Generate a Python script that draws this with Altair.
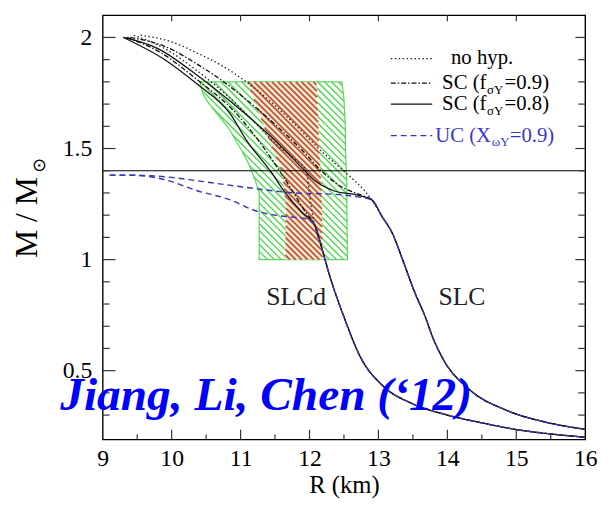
import altair as alt
import pandas as pd
import numpy as np

FONT = "Liberation Serif"
X_DOMAIN = [9, 16]
Y_DOMAIN = [0.19, 2.1]
W, H = 489, 430

# axis labels / ticks
X_LABELS = [9, 10, 11, 12, 13, 14, 15, 16]
Y_LABELS = [0.5, 1.0, 1.5, 2.0]
X_MAJOR = [10, 11, 12, 13, 14, 15]
X_MINOR = [9.5, 10.5, 11.5, 12.5, 13.5, 14.5, 15.5]
Y_MAJOR = [0.5, 1.0, 1.5, 2.0]
Y_MINOR = [0.3, 0.4, 0.6, 0.7, 0.8, 0.9, 1.1, 1.2, 1.3, 1.4, 1.6, 1.7, 1.8, 1.9]

# shared low-mass branches
SLC_BRANCH_R = [12.9, 13.06, 13.2, 13.35, 13.53, 13.67, 13.8, 13.96, 14.3, 14.87, 15.4, 16.0]
SLC_BRANCH_M = [1.27, 1.19, 1.12, 1.0, 0.85, 0.75, 0.64, 0.54, 0.42, 0.32, 0.27, 0.236]
SLCD_BRANCH_R = [12.07, 12.18, 12.3, 12.49, 12.74, 13.07, 13.5, 14.0, 14.5, 15.0, 15.5, 16.0]
SLCD_BRANCH_M = [1.16, 1.05, 0.92, 0.75, 0.56, 0.43, 0.35, 0.30, 0.265, 0.235, 0.215, 0.2]

# upper parts
NOHYP_SLC_R = [9.55, 10.0, 10.37, 10.8, 11.25, 11.75, 12.2, 12.6, 12.8]
NOHYP_SLC_M = [2.01, 1.98, 1.93, 1.86, 1.76, 1.62, 1.48, 1.37, 1.31]
SC09_SLC_R = [9.4, 9.9, 10.37, 10.8, 11.2, 11.6, 11.9, 12.17, 12.45, 12.75]
SC09_SLC_M = [2.0, 1.96, 1.88, 1.79, 1.69, 1.58, 1.49, 1.40, 1.33, 1.29]
SC08_SLC_R = [9.3, 9.8, 10.37, 10.9, 11.35, 11.65, 11.9, 12.1, 12.35, 12.7]
SC08_SLC_M = [2.0, 1.95, 1.83, 1.70, 1.58, 1.49, 1.41, 1.35, 1.31, 1.29]

NOHYP_SLCD_R = [9.45, 9.9, 10.37, 10.8, 11.2, 11.55, 11.8, 11.95, 12.02]
NOHYP_SLCD_M = [2.01, 1.95, 1.85, 1.74, 1.62, 1.51, 1.45, 1.40, 1.25]
SC09_SLCD_R = [9.35, 9.85, 10.37, 10.9, 11.25, 11.5, 11.75, 11.95]
SC09_SLCD_M = [2.0, 1.93, 1.81, 1.67, 1.54, 1.43, 1.31, 1.21]
SC08_SLCD_R = [9.3, 9.9, 10.37, 10.84, 11.1, 11.43, 11.65, 11.9]
SC08_SLCD_M = [2.0, 1.9, 1.79, 1.66, 1.53, 1.40, 1.30, 1.21]

UC_SLC_R = [9.1, 9.4, 9.65, 10.0, 10.37, 11.08, 11.79, 12.3, 12.64]
UC_SLC_M = [1.38, 1.38, 1.378, 1.37, 1.355, 1.325, 1.30, 1.295, 1.285]
UC_SLCD_R = [9.1, 9.4, 9.65, 9.9, 10.37, 10.84, 11.22, 11.5, 11.79, 11.93]
UC_SLCD_M = [1.38, 1.38, 1.375, 1.36, 1.31, 1.27, 1.22, 1.2, 1.19, 1.185]

# constraint regions (horizontal bands)
GREEN_M = [1.8, 1.75, 1.72, 1.66, 1.59, 1.5, 1.43, 1.35, 1.3, 1.0]
GREEN_LEFT = [10.41, 10.45, 10.5, 10.65, 10.83, 11.0, 11.12, 11.22, 11.27, 11.27]
GREEN_RIGHT = [12.47, 12.49, 12.5, 12.51, 12.52, 12.52, 12.53, 12.54, 12.54, 12.55]
RED_M = [1.8, 1.667, 1.5, 1.4, 1.24, 1.0]
RED_LEFT = [11.1, 11.26, 11.46, 11.6, 11.66, 11.65]
RED_RIGHT = [12.1, 12.12, 12.14, 12.16, 12.18, 12.19]

HLINE_M = [1.4]

# ---------------------------------------------------------------
def to_px(R, M):
    return (R - X_DOMAIN[0]) / (X_DOMAIN[1] - X_DOMAIN[0]) * W, (Y_DOMAIN[1] - M) / (Y_DOMAIN[1] - Y_DOMAIN[0]) * H


def to_data(px, py):
    return X_DOMAIN[0] + px * (X_DOMAIN[1] - X_DOMAIN[0]) / W, Y_DOMAIN[1] - py * (Y_DOMAIN[1] - Y_DOMAIN[0]) / H


def hatch(Ms, lefts, rights, spacing):
    pts = [to_px(r, m) for r, m in zip(lefts, Ms)] + [to_px(r, m) for r, m in zip(rights[::-1], Ms[::-1])]
    n = len(pts)
    vals = [p[1] - p[0] for p in pts]
    rows = []
    c = min(vals) + spacing / 2
    while c < max(vals):
        xs = []
        for i in range(n):
            (x1, y1), (x2, y2) = pts[i], pts[(i + 1) % n]
            f1, f2 = y1 - x1 - c, y2 - x2 - c
            if (f1 < 0) != (f2 < 0):
                t = f1 / (f1 - f2)
                xs.append(x1 + t * (x2 - x1))
        xs.sort()
        for a, b in zip(xs[0::2], xs[1::2]):
            ra, ma = to_data(a, a + c)
            rb, mb = to_data(b, b + c)
            rows.append(dict(x=ra, y=ma, x2=rb, y2=mb))
        c += spacing
    return pd.DataFrame(rows)


xs = alt.Scale(domain=X_DOMAIN, nice=False, zero=False)
ys = alt.Scale(domain=Y_DOMAIN, nice=False, zero=False)
xaxis = alt.Axis(values=X_LABELS, ticks=False, domain=False, grid=False, format="~g",
                 labelFont=FONT, labelFontSize=24, labelColor="black", labelPadding=7,
                 labelFlush=False, labelOverlap=False,
                 title="R (km)", titleFont=FONT, titleFontSize=25, titleFontWeight="normal",
                 titleColor="black", titlePadding=3)
yaxis = alt.Axis(values=Y_LABELS, ticks=False, domain=False, grid=False, format="~g",
                 labelFont=FONT, labelFontSize=24, labelColor="black", labelPadding=11,
                 labelFlush=False, labelOverlap=False, title=None)
X = alt.X("x:Q", scale=xs, axis=xaxis)
Y = alt.Y("y:Q", scale=ys, axis=yaxis)

layers = []

# green region
gdf = pd.DataFrame({"y": GREEN_M, "x": GREEN_LEFT, "x2": GREEN_RIGHT})
layers.append(alt.Chart(gdf).mark_area(orient="horizontal", fill="white", fillOpacity=0.0,
                                       stroke="#62d862", strokeWidth=1.3)
              .encode(y=Y, x=X, x2="x2:Q"))
layers.append(alt.Chart(hatch(GREEN_M, GREEN_LEFT, GREEN_RIGHT, 7.0))
              .mark_rule(color="#5cd65c", strokeWidth=1.5)
              .encode(x=X, y=Y, x2="x2:Q", y2="y2:Q"))
# red region
rdf = pd.DataFrame({"y": RED_M, "x": RED_LEFT, "x2": RED_RIGHT})
layers.append(alt.Chart(rdf).mark_area(orient="horizontal", fill="#f4ead0", strokeWidth=0)
              .encode(y=Y, x=X, x2="x2:Q"))
layers.append(alt.Chart(hatch(RED_M, RED_LEFT, RED_RIGHT, 6.0))
              .mark_rule(color="#c0553a", strokeWidth=1.8)
              .encode(x=X, y=Y, x2="x2:Q", y2="y2:Q"))


def curve_df(pairs):
    rows = []
    for name, (R, M) in pairs.items():
        for i, (r, m) in enumerate(zip(R, M)):
            rows.append(dict(curve=name, i=i, x=r, y=m))
    return pd.DataFrame(rows)


styles = [
    ("solid", {"SC08_SLC": (SC08_SLC_R + SLC_BRANCH_R, SC08_SLC_M + SLC_BRANCH_M),
               "SC08_SLCD": (SC08_SLCD_R + SLCD_BRANCH_R, SC08_SLCD_M + SLCD_BRANCH_M)},
     dict(color="#111111", strokeWidth=1.3)),
    ("dashdot", {"SC09_SLC": (SC09_SLC_R + SLC_BRANCH_R, SC09_SLC_M + SLC_BRANCH_M),
                 "SC09_SLCD": (SC09_SLCD_R + SLCD_BRANCH_R, SC09_SLCD_M + SLCD_BRANCH_M)},
     dict(color="#111111", strokeWidth=1.3, strokeDash=[5, 2, 1.5, 2])),
    ("dotted", {"NOHYP_SLC": (NOHYP_SLC_R + SLC_BRANCH_R, NOHYP_SLC_M + SLC_BRANCH_M),
                "NOHYP_SLCD": (NOHYP_SLCD_R + SLCD_BRANCH_R, NOHYP_SLCD_M + SLCD_BRANCH_M)},
     dict(color="#222222", strokeWidth=1.3, strokeDash=[1.5, 2.5])),
    ("uc", {"UC_SLC": (UC_SLC_R + SLC_BRANCH_R, UC_SLC_M + SLC_BRANCH_M),
            "UC_SLCD": (UC_SLCD_R + SLCD_BRANCH_R, UC_SLCD_M + SLCD_BRANCH_M)},
     dict(color="#3535b8", strokeWidth=1.4, strokeDash=[6, 4])),
]
for _, pairs, st in styles:
    layers.append(alt.Chart(curve_df(pairs)).mark_line(interpolate="monotone", **st)
                  .encode(x=X, y=Y, detail="curve:N", order="i:Q"))

# horizontal line M = 1.4
layers.append(alt.Chart(pd.DataFrame({"y": HLINE_M})).mark_rule(color="black", strokeWidth=1.2)
              .encode(y=Y))

# inward ticks on all four sides
dxp = (X_DOMAIN[1] - X_DOMAIN[0]) / W
dyp = (Y_DOMAIN[1] - Y_DOMAIN[0]) / H
trows = []
for t in X_MAJOR:
    trows.append(dict(x=t, x2=t, y=Y_DOMAIN[0], y2=Y_DOMAIN[0] + 10 * dyp))
    trows.append(dict(x=t, x2=t, y=Y_DOMAIN[1], y2=Y_DOMAIN[1] - 6 * dyp))
for t in X_MINOR:
    trows.append(dict(x=t, x2=t, y=Y_DOMAIN[0], y2=Y_DOMAIN[0] + 5 * dyp))
for t in Y_MAJOR:
    trows.append(dict(x=X_DOMAIN[0], x2=X_DOMAIN[0] + 13 * dxp, y=t, y2=t))
    trows.append(dict(x=X_DOMAIN[1], x2=X_DOMAIN[1] - 10 * dxp, y=t, y2=t))
for t in Y_MINOR:
    trows.append(dict(x=X_DOMAIN[0], x2=X_DOMAIN[0] + 7 * dxp, y=t, y2=t))
    trows.append(dict(x=X_DOMAIN[1], x2=X_DOMAIN[1] - 7 * dxp, y=t, y2=t))
layers.append(alt.Chart(pd.DataFrame(trows)).mark_rule(color="#333333", strokeWidth=1.2)
              .encode(x=X, y=Y, x2="x2:Q", y2="y2:Q"))

# legend
LEG_X0, LEG_X1 = 13.18, 13.781
LEG_ROWS = [1.905, 1.794, 1.700, 1.558]
leg_styles = [dict(color="#222222", strokeWidth=1.3, strokeDash=[1.5, 2.5]),
              dict(color="#111111", strokeWidth=1.3, strokeDash=[5, 2, 1.5, 2]),
              dict(color="#111111", strokeWidth=1.3),
              dict(color="#3535b8", strokeWidth=1.4, strokeDash=[6, 4])]
for yy, st in zip(LEG_ROWS, leg_styles):
    layers.append(alt.Chart(pd.DataFrame({"x": [LEG_X0], "x2": [LEG_X1], "y": [yy]}))
                  .mark_rule(**st).encode(x=X, x2="x2:Q", y=Y))

LEG_MAIN_TEXT = ["no hyp.", "SC (f", "=0.9)", "SC (f", "=0.8)", "UC (X", "=0.9)"]
LEG_MAIN_X = [14.053, 13.924, 14.83, 13.924, 14.83, 13.824, 14.905]
LEG_MAIN_Y = [1.905, 1.794, 1.794, 1.700, 1.700, 1.558, 1.558]
LEG_MAIN_C = ["black", "black", "black", "black", "black", "#3838c8", "#3838c8"]
LEG_SUB_TEXT = ["σY", "σY", "ωY"]
LEG_SUB_X = [14.575, 14.575, 14.645]
LEG_SUB_Y = [1.794, 1.700, 1.558]
LEG_SUB_C = ["black", "black", "#3838c8"]

layers.append(alt.Chart(pd.DataFrame({"x": LEG_MAIN_X, "y": LEG_MAIN_Y, "t": LEG_MAIN_TEXT, "c": LEG_MAIN_C}))
              .mark_text(font=FONT, fontSize=21, align="left", baseline="middle")
              .encode(x=X, y=Y, text="t:N", color=alt.Color("c:N", scale=None)))
layers.append(alt.Chart(pd.DataFrame({"x": LEG_SUB_X, "y": LEG_SUB_Y, "t": LEG_SUB_TEXT, "c": LEG_SUB_C}))
              .mark_text(font=FONT, fontSize=13, align="left", baseline="middle", dy=7)
              .encode(x=X, y=Y, text="t:N", color=alt.Color("c:N", scale=None)))

# curve family labels
layers.append(alt.Chart(pd.DataFrame({"x": [11.806, 14.211], "y": [0.83, 0.83], "t": ["SLCd", "SLC"]}))
              .mark_text(font=FONT, fontSize=26, align="center", baseline="middle", color="#222222")
              .encode(x=X, y=Y, text="t:N"))

# y axis title with subscript
layers.append(alt.Chart(pd.DataFrame({"x": [7.905], "y": [1.189], "t": ["M / M"]}))
              .mark_text(font=FONT, fontSize=32, angle=270, align="center", baseline="middle", color="black")
              .encode(x=X, y=Y, text="t:N"))
layers.append(alt.Chart(pd.DataFrame({"x": [8.098], "y": [1.425], "t": ["⊙"]}))
              .mark_text(font="DejaVu Sans", fontSize=18, angle=270, align="center", baseline="middle", color="black")
              .encode(x=X, y=Y, text="t:N"))

# citation
layers.append(alt.Chart(pd.DataFrame({"x": [8.384], "y": [0.323], "t": ["Jiang, Li, Chen (‘12)"]}))
              .mark_text(font=FONT, fontSize=48, fontStyle="italic", fontWeight="bold",
                         align="left", baseline="alphabetic", color="#0000ff")
              .encode(x=X, y=Y, text="t:N"))

chart = alt.layer(*layers).properties(
    width=W, height=H,
    padding={"left": 96, "top": 4, "right": 16, "bottom": 62},
    autosize=alt.AutoSizeParams(type="none"),
    background="white",
).configure_view(stroke="black", strokeWidth=1.4)

chart.save("out.html", embed_options={"renderer": "svg", "actions": False})
